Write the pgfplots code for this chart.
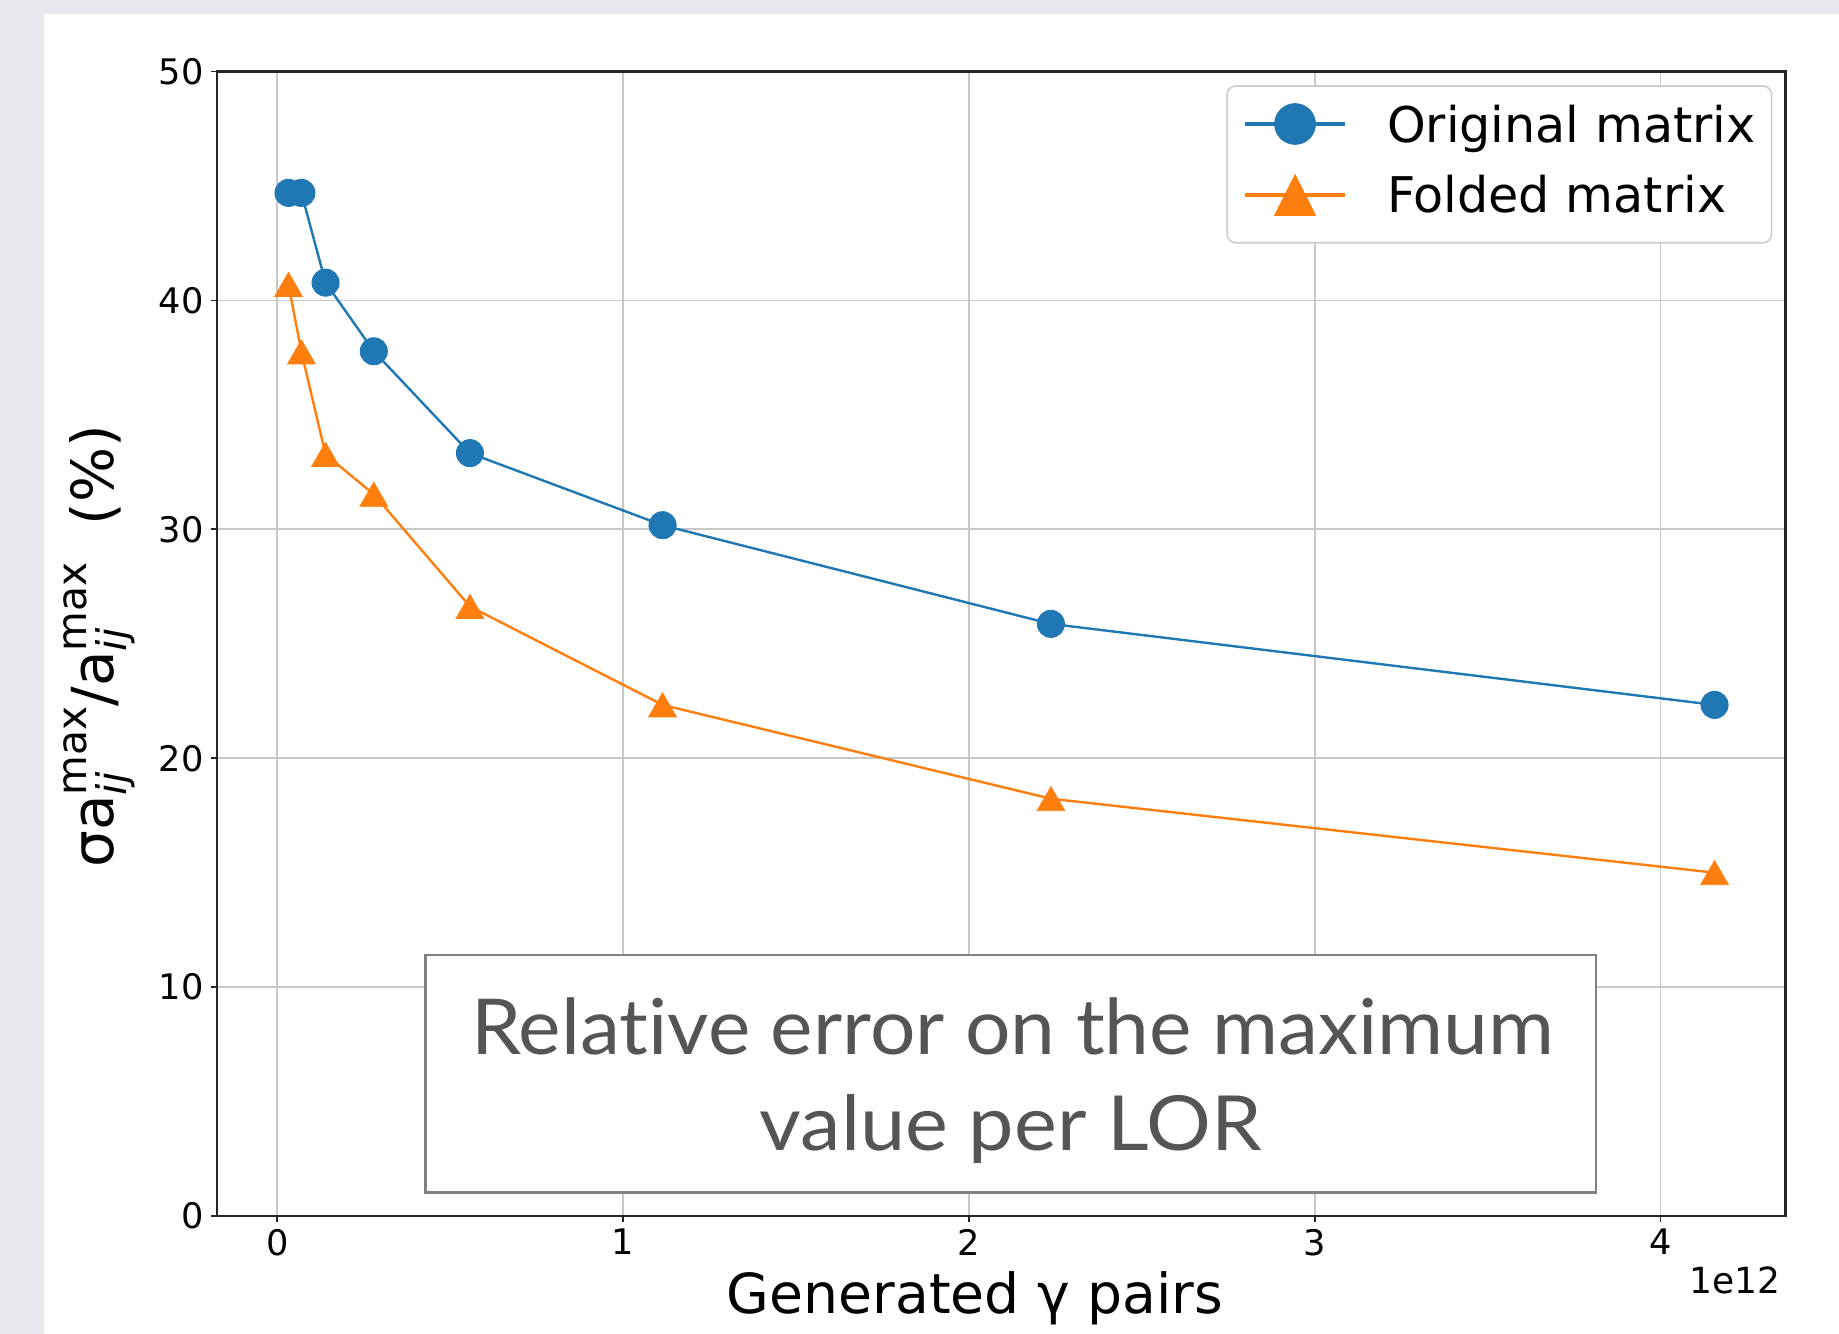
\documentclass[border=0pt]{standalone}
\usepackage{fontspec}
\setmainfont{DejaVu Sans}
\newfontfamily\gillfont[Ligatures=NoCommon]{Lato}
\usepackage{graphicx}
\usepackage{pgfplots}
\pgfplotsset{compat=1.18}

\definecolor{c1}{HTML}{1F77B4}
\definecolor{c2}{HTML}{FF7F0E}
\definecolor{bg}{HTML}{E6E9EE}
\definecolor{txtgray}{HTML}{555555}
\definecolor{gridc}{HTML}{C8C8C8}

\newcommand\mij{\mbox{\fontsize{10.2}{11}\selectfont\rlap{\raisebox{-3.2pt}{\itshape ij}}\raisebox{6.8pt}{max}}}

\begin{document}
\begin{tikzpicture}[x=1pt,y=1pt]
\useasboundingbox (0,0) rectangle (459.75,333.5);
\fill[bg] (0,0) rectangle (459.75,333.5);
\fill[white] (11,0) rectangle (459.75,330);
\begin{axis}[
  at={(54.25pt,29.5pt)}, anchor=south west,
  scale only axis, width=392.1pt, height=286.1pt,
  xmin=-0.1744, xmax=4.361, ymin=0, ymax=50,
  xtick={0,1,2,3,4}, ytick={0,10,20,30,40,50},
  scaled x ticks=false,
  xtick pos=left, ytick pos=left,
  grid=major, major grid style={line width=0.45pt, color=gridc},
  axis line style={line width=0.55pt, black!85},
  tick align=outside, major tick length=1.4pt,
  tick style={line width=0.45pt, black!85},
  /pgf/number format/assume math mode=true,
  tick label style={font=\fontsize{8.8}{10}\selectfont, inner sep=0pt},
  xticklabel style={anchor=north, yshift=-1.7pt},
  yticklabel style={anchor=east, xshift=-1.8pt},
  legend cell align=left,
  legend style={at={(1,1)}, anchor=north east, xshift=-3.25pt, yshift=-3.4pt,
    draw=black!20, line width=0.4pt, rounded corners=2.2pt, fill=white,
    font=\fontsize{12.3}{14}\selectfont, inner xsep=4pt, inner ysep=3.2pt,
    row sep=2pt, column sep=10pt, nodes={inner sep=0pt, text height=9pt, text depth=3pt}},
]
\addplot[color=c1, line width=0.6pt, mark=*, mark size=3.4pt, mark options={solid, line width=0.2pt}, forget plot] coordinates {
 (0.0324,44.70) (0.0697,44.70) (0.1395,40.78) (0.2790,37.78) (0.5570,33.33) (1.1140,30.18) (2.2370,25.87) (4.1560,22.33)
};
\addplot[color=c2, line width=0.6pt, mark=triangle*, mark size=4pt, mark options={solid, line width=0.2pt, yshift=-1pt}, forget plot] coordinates {
 (0.0324,40.70) (0.0697,37.75) (0.1395,33.27) (0.2790,31.53) (0.5570,26.63) (1.1140,22.33) (2.2370,18.23) (4.1560,15.00)
};
\addlegendimage{color=c1, line width=1pt, mark=*, mark size=5.1pt, mark options={solid, line width=0.2pt},
  legend image code/.code={\path[draw=none, fill=none] (0pt,-7.35pt) rectangle (25pt,8.05pt);
    \draw[sharp corners, mark repeat=2, mark phase=2] plot coordinates {(0pt,1.75pt) (12.5pt,1.75pt) (25pt,1.75pt)};}}
\addlegendentry{Original matrix}
\addlegendimage{color=c2, line width=1pt, mark=triangle*, mark size=5.9pt, mark options={solid, line width=0.2pt, yshift=-1.7pt, yscale=1.15},
  legend image code/.code={\path[draw=none, fill=none] (0pt,-7.35pt) rectangle (25pt,8.05pt);
    \draw[sharp corners, mark repeat=2, mark phase=2] plot coordinates {(0pt,1.4pt) (12.5pt,1.4pt) (25pt,1.4pt)};}}
\addlegendentry{Folded matrix}
\end{axis}
% axis labels
\node[rotate=90, anchor=base, inner sep=0pt, font=\fontsize{14.5}{16}\selectfont] at (28.3,171.9) {σa\mij/a\mij\ \ (\%)};
\node[anchor=base, inner sep=0pt, font=\fontsize{13.8}{15}\selectfont] at (243.75,5.2) {Generated γ pairs};
\node[anchor=base east, inner sep=0pt, font=\fontsize{9}{10}\selectfont] at (445.25,10.2) {1e12};
% annotation box
\filldraw[fill=white, draw=black!50, line width=0.6pt] (106.4,35.4) rectangle (399,94.75);
\node[anchor=base, inner sep=0pt, text=txtgray] at (253.2,69.75) {\resizebox{270.8pt}{14.2pt}{\gillfont Relat\kern0pt ive error on the maximum}};
\node[anchor=base, inner sep=0pt, text=txtgray] at (252.7,45.8) {\resizebox{125.5pt}{14.0pt}{\gillfont value per LOR}};
\end{tikzpicture}
\end{document}
